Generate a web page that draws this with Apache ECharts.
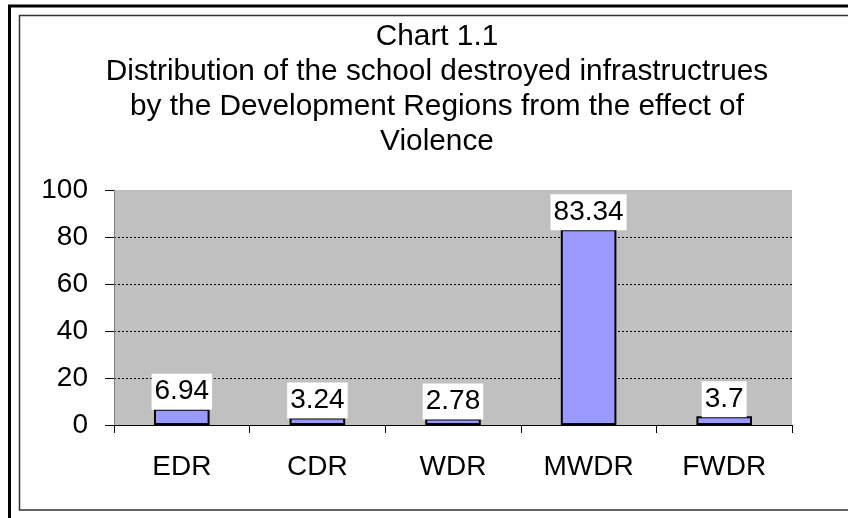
<!DOCTYPE html>
<html>
<head>
<meta charset="utf-8">
<script src="https://cdn.jsdelivr.net/npm/echarts@6/dist/echarts.min.js"></script>
<style>
html,body{margin:0;padding:0;background:#fff;}
#c{width:848px;height:518px;}
</style>
</head>
<body>
<div id="c"></div>
<script>
const titleLines = [
  'Chart 1.1',
  'Distribution of the school destroyed infrastructrues',
  'by the Development Regions from the effect of',
  'Violence'
];
const categories = ['EDR', 'CDR', 'WDR', 'MWDR', 'FWDR'];
const values = [6.94, 3.24, 2.78, 83.34, 3.7];
const yTicks = { min: 0, max: 100, interval: 20 };

const FONT = '"Liberation Sans", Arial, sans-serif';
const chart = echarts.init(document.getElementById('c'), null, { renderer: 'canvas' });
chart.setOption({
  backgroundColor: '#ffffff',
  animation: false,
  graphic: [
    { type: 'rect', silent: true, z: -10,
      shape: { x: 9.5, y: 6, width: 900, height: 600 },
      style: { fill: 'none', stroke: '#000', lineWidth: 3 } },
    { type: 'rect', silent: true, z: -10,
      shape: { x: 19.5, y: 15.5, width: 900, height: 494.5 },
      style: { fill: 'none', stroke: '#333', lineWidth: 1.5 } }
  ],
  title: {
    text: titleLines.join('\n'),
    left: 437,
    textAlign: 'center',
    top: 19,
    padding: 0,
    textStyle: {
      fontFamily: FONT, fontSize: 29.8, fontWeight: 'normal',
      color: '#000', lineHeight: 35
    }
  },
  grid: {
    left: 114, right: 56, top: 190, bottom: 93,
    show: true, backgroundColor: '#C0C0C0', borderWidth: 0,
    containLabel: false
  },
  xAxis: {
    type: 'category',
    data: categories,
    boundaryGap: true,
    axisLine: { show: true, lineStyle: { color: '#000', width: 1 } },
    axisTick: { show: true, length: 8, lineStyle: { color: '#000', width: 1 } },
    axisLabel: { fontFamily: FONT, fontSize: 28, color: '#000', margin: 28 },
    splitLine: { show: false }
  },
  yAxis: {
    type: 'value',
    min: yTicks.min, max: yTicks.max, interval: yTicks.interval,
    axisLine: { show: true, lineStyle: { color: '#808080', width: 1 } },
    axisTick: { show: true, length: 9, lineStyle: { color: '#000', width: 1 } },
    axisLabel: { fontFamily: FONT, fontSize: 28, color: '#000', margin: 26 },
    splitLine: {
      show: true,
      showMaxLine: false,
      showMinLine: false,
      lineStyle: { color: '#000', width: 1, type: [2, 2] }
    }
  },
  series: [{
    type: 'bar',
    data: values,
    barCategoryGap: '59%',
    itemStyle: { color: '#9999FF', borderColor: '#000', borderWidth: 2 },
    label: {
      show: true,
      position: 'top',
      distance: -1,
      fontFamily: FONT, fontSize: 28, color: '#000',
      lineHeight: 28,
      backgroundColor: '#ffffff',
      padding: [4, 3, 4, 3]
    }
  }]
});
</script>
</body>
</html>
